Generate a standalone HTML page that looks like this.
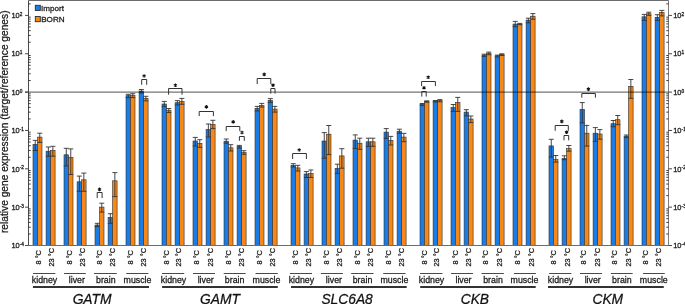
<!DOCTYPE html>
<html><head><meta charset="utf-8"><style>
html,body{margin:0;padding:0;background:#fff;}
body{width:685px;height:304px;overflow:hidden;}
svg{display:block;font-family:"Liberation Sans",sans-serif;will-change:transform;}
text{stroke:#1a1a1a;stroke-width:0.28px;}
</style></head><body>
<svg width="685" height="304" viewBox="0 0 685 304">
<rect x="33.00" y="144.30" width="4.5" height="101.20" fill="#1a7ce6" stroke="#2e2e2e" stroke-width="0.6"/>
<rect x="37.50" y="137.10" width="4.5" height="108.40" fill="#f78818" stroke="#2e2e2e" stroke-width="0.6"/>
<rect x="46.10" y="151.20" width="4.5" height="94.30" fill="#1a7ce6" stroke="#2e2e2e" stroke-width="0.6"/>
<rect x="50.60" y="150.50" width="4.5" height="95.00" fill="#f78818" stroke="#2e2e2e" stroke-width="0.6"/>
<rect x="64.00" y="154.80" width="4.5" height="90.70" fill="#1a7ce6" stroke="#2e2e2e" stroke-width="0.6"/>
<rect x="68.50" y="157.40" width="4.5" height="88.10" fill="#f78818" stroke="#2e2e2e" stroke-width="0.6"/>
<rect x="77.10" y="181.80" width="4.5" height="63.70" fill="#1a7ce6" stroke="#2e2e2e" stroke-width="0.6"/>
<rect x="81.60" y="179.80" width="4.5" height="65.70" fill="#f78818" stroke="#2e2e2e" stroke-width="0.6"/>
<rect x="95.00" y="225.00" width="4.5" height="20.50" fill="#1a7ce6" stroke="#2e2e2e" stroke-width="0.6"/>
<rect x="99.50" y="207.10" width="4.5" height="38.40" fill="#f78818" stroke="#2e2e2e" stroke-width="0.6"/>
<rect x="108.10" y="217.40" width="4.5" height="28.10" fill="#1a7ce6" stroke="#2e2e2e" stroke-width="0.6"/>
<rect x="112.60" y="180.80" width="4.5" height="64.70" fill="#f78818" stroke="#2e2e2e" stroke-width="0.6"/>
<rect x="126.00" y="95.70" width="4.5" height="149.80" fill="#1a7ce6" stroke="#2e2e2e" stroke-width="0.6"/>
<rect x="130.50" y="95.30" width="4.5" height="150.20" fill="#f78818" stroke="#2e2e2e" stroke-width="0.6"/>
<rect x="139.10" y="91.00" width="4.5" height="154.50" fill="#1a7ce6" stroke="#2e2e2e" stroke-width="0.6"/>
<rect x="143.60" y="98.30" width="4.5" height="147.20" fill="#f78818" stroke="#2e2e2e" stroke-width="0.6"/>
<rect x="162.00" y="104.00" width="4.5" height="141.50" fill="#1a7ce6" stroke="#2e2e2e" stroke-width="0.6"/>
<rect x="166.50" y="110.20" width="4.5" height="135.30" fill="#f78818" stroke="#2e2e2e" stroke-width="0.6"/>
<rect x="175.10" y="102.70" width="4.5" height="142.80" fill="#1a7ce6" stroke="#2e2e2e" stroke-width="0.6"/>
<rect x="179.60" y="101.40" width="4.5" height="144.10" fill="#f78818" stroke="#2e2e2e" stroke-width="0.6"/>
<rect x="193.00" y="141.00" width="4.5" height="104.50" fill="#1a7ce6" stroke="#2e2e2e" stroke-width="0.6"/>
<rect x="197.50" y="143.30" width="4.5" height="102.20" fill="#f78818" stroke="#2e2e2e" stroke-width="0.6"/>
<rect x="206.10" y="129.50" width="4.5" height="116.00" fill="#1a7ce6" stroke="#2e2e2e" stroke-width="0.6"/>
<rect x="210.60" y="124.40" width="4.5" height="121.10" fill="#f78818" stroke="#2e2e2e" stroke-width="0.6"/>
<rect x="224.00" y="141.20" width="4.5" height="104.30" fill="#1a7ce6" stroke="#2e2e2e" stroke-width="0.6"/>
<rect x="228.50" y="147.80" width="4.5" height="97.70" fill="#f78818" stroke="#2e2e2e" stroke-width="0.6"/>
<rect x="237.10" y="146.40" width="4.5" height="99.10" fill="#1a7ce6" stroke="#2e2e2e" stroke-width="0.6"/>
<rect x="241.60" y="152.40" width="4.5" height="93.10" fill="#f78818" stroke="#2e2e2e" stroke-width="0.6"/>
<rect x="255.00" y="108.40" width="4.5" height="137.10" fill="#1a7ce6" stroke="#2e2e2e" stroke-width="0.6"/>
<rect x="259.50" y="105.50" width="4.5" height="140.00" fill="#f78818" stroke="#2e2e2e" stroke-width="0.6"/>
<rect x="268.10" y="100.30" width="4.5" height="145.20" fill="#1a7ce6" stroke="#2e2e2e" stroke-width="0.6"/>
<rect x="272.60" y="109.10" width="4.5" height="136.40" fill="#f78818" stroke="#2e2e2e" stroke-width="0.6"/>
<rect x="291.00" y="165.30" width="4.5" height="80.20" fill="#1a7ce6" stroke="#2e2e2e" stroke-width="0.6"/>
<rect x="295.50" y="167.90" width="4.5" height="77.60" fill="#f78818" stroke="#2e2e2e" stroke-width="0.6"/>
<rect x="304.10" y="174.00" width="4.5" height="71.50" fill="#1a7ce6" stroke="#2e2e2e" stroke-width="0.6"/>
<rect x="308.60" y="173.60" width="4.5" height="71.90" fill="#f78818" stroke="#2e2e2e" stroke-width="0.6"/>
<rect x="322.00" y="141.00" width="4.5" height="104.50" fill="#1a7ce6" stroke="#2e2e2e" stroke-width="0.6"/>
<rect x="326.50" y="134.20" width="4.5" height="111.30" fill="#f78818" stroke="#2e2e2e" stroke-width="0.6"/>
<rect x="335.10" y="168.40" width="4.5" height="77.10" fill="#1a7ce6" stroke="#2e2e2e" stroke-width="0.6"/>
<rect x="339.60" y="155.90" width="4.5" height="89.60" fill="#f78818" stroke="#2e2e2e" stroke-width="0.6"/>
<rect x="353.00" y="140.10" width="4.5" height="105.40" fill="#1a7ce6" stroke="#2e2e2e" stroke-width="0.6"/>
<rect x="357.50" y="143.20" width="4.5" height="102.30" fill="#f78818" stroke="#2e2e2e" stroke-width="0.6"/>
<rect x="366.10" y="141.80" width="4.5" height="103.70" fill="#1a7ce6" stroke="#2e2e2e" stroke-width="0.6"/>
<rect x="370.60" y="141.80" width="4.5" height="103.70" fill="#f78818" stroke="#2e2e2e" stroke-width="0.6"/>
<rect x="384.00" y="132.10" width="4.5" height="113.40" fill="#1a7ce6" stroke="#2e2e2e" stroke-width="0.6"/>
<rect x="388.50" y="140.40" width="4.5" height="105.10" fill="#f78818" stroke="#2e2e2e" stroke-width="0.6"/>
<rect x="397.10" y="131.20" width="4.5" height="114.30" fill="#1a7ce6" stroke="#2e2e2e" stroke-width="0.6"/>
<rect x="401.60" y="137.10" width="4.5" height="108.40" fill="#f78818" stroke="#2e2e2e" stroke-width="0.6"/>
<rect x="420.00" y="104.40" width="4.5" height="141.10" fill="#1a7ce6" stroke="#2e2e2e" stroke-width="0.6"/>
<rect x="424.50" y="101.20" width="4.5" height="144.30" fill="#f78818" stroke="#2e2e2e" stroke-width="0.6"/>
<rect x="433.10" y="101.20" width="4.5" height="144.30" fill="#1a7ce6" stroke="#2e2e2e" stroke-width="0.6"/>
<rect x="437.60" y="100.50" width="4.5" height="145.00" fill="#f78818" stroke="#2e2e2e" stroke-width="0.6"/>
<rect x="451.00" y="107.50" width="4.5" height="138.00" fill="#1a7ce6" stroke="#2e2e2e" stroke-width="0.6"/>
<rect x="455.50" y="102.60" width="4.5" height="142.90" fill="#f78818" stroke="#2e2e2e" stroke-width="0.6"/>
<rect x="464.10" y="112.10" width="4.5" height="133.40" fill="#1a7ce6" stroke="#2e2e2e" stroke-width="0.6"/>
<rect x="468.60" y="119.00" width="4.5" height="126.50" fill="#f78818" stroke="#2e2e2e" stroke-width="0.6"/>
<rect x="482.00" y="55.10" width="4.5" height="190.40" fill="#1a7ce6" stroke="#2e2e2e" stroke-width="0.6"/>
<rect x="486.50" y="53.20" width="4.5" height="192.30" fill="#f78818" stroke="#2e2e2e" stroke-width="0.6"/>
<rect x="495.10" y="55.80" width="4.5" height="189.70" fill="#1a7ce6" stroke="#2e2e2e" stroke-width="0.6"/>
<rect x="499.60" y="54.50" width="4.5" height="191.00" fill="#f78818" stroke="#2e2e2e" stroke-width="0.6"/>
<rect x="513.00" y="24.10" width="4.5" height="221.40" fill="#1a7ce6" stroke="#2e2e2e" stroke-width="0.6"/>
<rect x="517.50" y="24.10" width="4.5" height="221.40" fill="#f78818" stroke="#2e2e2e" stroke-width="0.6"/>
<rect x="526.10" y="20.10" width="4.5" height="225.40" fill="#1a7ce6" stroke="#2e2e2e" stroke-width="0.6"/>
<rect x="530.60" y="16.20" width="4.5" height="229.30" fill="#f78818" stroke="#2e2e2e" stroke-width="0.6"/>
<rect x="549.00" y="145.90" width="4.5" height="99.60" fill="#1a7ce6" stroke="#2e2e2e" stroke-width="0.6"/>
<rect x="553.50" y="159.50" width="4.5" height="86.00" fill="#f78818" stroke="#2e2e2e" stroke-width="0.6"/>
<rect x="562.10" y="158.40" width="4.5" height="87.10" fill="#1a7ce6" stroke="#2e2e2e" stroke-width="0.6"/>
<rect x="566.60" y="148.60" width="4.5" height="96.90" fill="#f78818" stroke="#2e2e2e" stroke-width="0.6"/>
<rect x="580.00" y="109.40" width="4.5" height="136.10" fill="#1a7ce6" stroke="#2e2e2e" stroke-width="0.6"/>
<rect x="584.50" y="133.20" width="4.5" height="112.30" fill="#f78818" stroke="#2e2e2e" stroke-width="0.6"/>
<rect x="593.10" y="133.20" width="4.5" height="112.30" fill="#1a7ce6" stroke="#2e2e2e" stroke-width="0.6"/>
<rect x="597.60" y="134.00" width="4.5" height="111.50" fill="#f78818" stroke="#2e2e2e" stroke-width="0.6"/>
<rect x="611.00" y="123.70" width="4.5" height="121.80" fill="#1a7ce6" stroke="#2e2e2e" stroke-width="0.6"/>
<rect x="615.50" y="119.70" width="4.5" height="125.80" fill="#f78818" stroke="#2e2e2e" stroke-width="0.6"/>
<rect x="624.10" y="136.20" width="4.5" height="109.30" fill="#1a7ce6" stroke="#2e2e2e" stroke-width="0.6"/>
<rect x="628.60" y="86.40" width="4.5" height="159.10" fill="#f78818" stroke="#2e2e2e" stroke-width="0.6"/>
<rect x="642.00" y="16.80" width="4.5" height="228.70" fill="#1a7ce6" stroke="#2e2e2e" stroke-width="0.6"/>
<rect x="646.50" y="13.70" width="4.5" height="231.80" fill="#f78818" stroke="#2e2e2e" stroke-width="0.6"/>
<rect x="655.10" y="17.30" width="4.5" height="228.20" fill="#1a7ce6" stroke="#2e2e2e" stroke-width="0.6"/>
<rect x="659.60" y="12.40" width="4.5" height="233.10" fill="#f78818" stroke="#2e2e2e" stroke-width="0.6"/>
<path d="M35.25 140.40V150.50M32.75 140.40h5M32.75 150.50h5" stroke="#333" stroke-width="0.9" fill="none"/>
<path d="M39.75 133.20V142.40M37.25 133.20h5M37.25 142.40h5" stroke="#333" stroke-width="0.9" fill="none"/>
<path d="M48.35 147.00V156.20M45.85 147.00h5M45.85 156.20h5" stroke="#333" stroke-width="0.9" fill="none"/>
<path d="M52.85 146.30V156.20M50.35 146.30h5M50.35 156.20h5" stroke="#333" stroke-width="0.9" fill="none"/>
<path d="M66.25 148.30V166.00M63.75 148.30h5M63.75 166.00h5" stroke="#333" stroke-width="0.9" fill="none"/>
<path d="M70.75 148.90V174.50M68.25 148.90h5M68.25 174.50h5" stroke="#333" stroke-width="0.9" fill="none"/>
<path d="M79.35 176.10V191.30M76.85 176.10h5M76.85 191.30h5" stroke="#333" stroke-width="0.9" fill="none"/>
<path d="M83.85 173.10V191.30M81.35 173.10h5M81.35 191.30h5" stroke="#333" stroke-width="0.9" fill="none"/>
<path d="M97.25 223.30V226.60M94.75 223.30h5M94.75 226.60h5" stroke="#333" stroke-width="0.9" fill="none"/>
<path d="M101.75 203.20V212.10M99.25 203.20h5M99.25 212.10h5" stroke="#333" stroke-width="0.9" fill="none"/>
<path d="M110.35 213.70V223.30M107.85 213.70h5M107.85 223.30h5" stroke="#333" stroke-width="0.9" fill="none"/>
<path d="M114.85 172.60V196.60M112.35 172.60h5M112.35 196.60h5" stroke="#333" stroke-width="0.9" fill="none"/>
<path d="M128.25 94.30V97.60M125.75 94.30h5M125.75 97.60h5" stroke="#333" stroke-width="0.9" fill="none"/>
<path d="M132.75 93.70V97.60M130.25 93.70h5M130.25 97.60h5" stroke="#333" stroke-width="0.9" fill="none"/>
<path d="M141.35 89.50V93.00M138.85 89.50h5M138.85 93.00h5" stroke="#333" stroke-width="0.9" fill="none"/>
<path d="M145.85 96.30V100.90M143.35 96.30h5M143.35 100.90h5" stroke="#333" stroke-width="0.9" fill="none"/>
<path d="M164.25 101.40V106.70M161.75 101.40h5M161.75 106.70h5" stroke="#333" stroke-width="0.9" fill="none"/>
<path d="M168.75 108.50V112.50M166.25 108.50h5M166.25 112.50h5" stroke="#333" stroke-width="0.9" fill="none"/>
<path d="M177.35 100.60V105.00M174.85 100.60h5M174.85 105.00h5" stroke="#333" stroke-width="0.9" fill="none"/>
<path d="M181.85 98.40V104.30M179.35 98.40h5M179.35 104.30h5" stroke="#333" stroke-width="0.9" fill="none"/>
<path d="M195.25 137.40V146.00M192.75 137.40h5M192.75 146.00h5" stroke="#333" stroke-width="0.9" fill="none"/>
<path d="M199.75 139.70V147.40M197.25 139.70h5M197.25 147.40h5" stroke="#333" stroke-width="0.9" fill="none"/>
<path d="M208.35 124.00V137.00M205.85 124.00h5M205.85 137.00h5" stroke="#333" stroke-width="0.9" fill="none"/>
<path d="M212.85 120.30V128.60M210.35 120.30h5M210.35 128.60h5" stroke="#333" stroke-width="0.9" fill="none"/>
<path d="M226.25 139.00V143.20M223.75 139.00h5M223.75 143.20h5" stroke="#333" stroke-width="0.9" fill="none"/>
<path d="M230.75 144.70V151.00M228.25 144.70h5M228.25 151.00h5" stroke="#333" stroke-width="0.9" fill="none"/>
<path d="M239.35 145.40V148.00M236.85 145.40h5M236.85 148.00h5" stroke="#333" stroke-width="0.9" fill="none"/>
<path d="M243.85 150.70V154.30M241.35 150.70h5M241.35 154.30h5" stroke="#333" stroke-width="0.9" fill="none"/>
<path d="M257.25 106.40V111.00M254.75 106.40h5M254.75 111.00h5" stroke="#333" stroke-width="0.9" fill="none"/>
<path d="M261.75 103.40V107.10M259.25 103.40h5M259.25 107.10h5" stroke="#333" stroke-width="0.9" fill="none"/>
<path d="M270.35 98.60V102.50M267.85 98.60h5M267.85 102.50h5" stroke="#333" stroke-width="0.9" fill="none"/>
<path d="M274.85 106.40V112.10M272.35 106.40h5M272.35 112.10h5" stroke="#333" stroke-width="0.9" fill="none"/>
<path d="M293.25 163.70V167.00M290.75 163.70h5M290.75 167.00h5" stroke="#333" stroke-width="0.9" fill="none"/>
<path d="M297.75 165.30V171.00M295.25 165.30h5M295.25 171.00h5" stroke="#333" stroke-width="0.9" fill="none"/>
<path d="M306.35 171.60V177.50M303.85 171.60h5M303.85 177.50h5" stroke="#333" stroke-width="0.9" fill="none"/>
<path d="M310.85 170.00V177.50M308.35 170.00h5M308.35 177.50h5" stroke="#333" stroke-width="0.9" fill="none"/>
<path d="M324.25 132.60V158.20M321.75 132.60h5M321.75 158.20h5" stroke="#333" stroke-width="0.9" fill="none"/>
<path d="M328.75 125.50V154.60M326.25 125.50h5M326.25 154.60h5" stroke="#333" stroke-width="0.9" fill="none"/>
<path d="M337.35 164.20V173.40M334.85 164.20h5M334.85 173.40h5" stroke="#333" stroke-width="0.9" fill="none"/>
<path d="M341.85 148.70V168.20M339.35 148.70h5M339.35 168.20h5" stroke="#333" stroke-width="0.9" fill="none"/>
<path d="M355.25 134.90V148.40M352.75 134.90h5M352.75 148.40h5" stroke="#333" stroke-width="0.9" fill="none"/>
<path d="M359.75 138.20V149.30M357.25 138.20h5M357.25 149.30h5" stroke="#333" stroke-width="0.9" fill="none"/>
<path d="M368.35 138.20V146.30M365.85 138.20h5M365.85 146.30h5" stroke="#333" stroke-width="0.9" fill="none"/>
<path d="M372.85 138.20V146.30M370.35 138.20h5M370.35 146.30h5" stroke="#333" stroke-width="0.9" fill="none"/>
<path d="M386.25 128.60V138.40M383.75 128.60h5M383.75 138.40h5" stroke="#333" stroke-width="0.9" fill="none"/>
<path d="M390.75 136.40V145.00M388.25 136.40h5M388.25 145.00h5" stroke="#333" stroke-width="0.9" fill="none"/>
<path d="M399.35 129.20V133.20M396.85 129.20h5M396.85 133.20h5" stroke="#333" stroke-width="0.9" fill="none"/>
<path d="M403.85 133.40V141.70M401.35 133.40h5M401.35 141.70h5" stroke="#333" stroke-width="0.9" fill="none"/>
<path d="M422.25 103.50V105.40M419.75 103.50h5M419.75 105.40h5" stroke="#333" stroke-width="0.9" fill="none"/>
<path d="M426.75 100.90V102.20M424.25 100.90h5M424.25 102.20h5" stroke="#333" stroke-width="0.9" fill="none"/>
<path d="M435.35 100.50V102.00M432.85 100.50h5M432.85 102.00h5" stroke="#333" stroke-width="0.9" fill="none"/>
<path d="M439.85 99.60V101.80M437.35 99.60h5M437.35 101.80h5" stroke="#333" stroke-width="0.9" fill="none"/>
<path d="M453.25 104.50V111.40M450.75 104.50h5M450.75 111.40h5" stroke="#333" stroke-width="0.9" fill="none"/>
<path d="M457.75 97.40V111.40M455.25 97.40h5M455.25 111.40h5" stroke="#333" stroke-width="0.9" fill="none"/>
<path d="M466.35 109.70V115.80M463.85 109.70h5M463.85 115.80h5" stroke="#333" stroke-width="0.9" fill="none"/>
<path d="M470.85 116.00V122.60M468.35 116.00h5M468.35 122.60h5" stroke="#333" stroke-width="0.9" fill="none"/>
<path d="M484.25 54.20V56.40M481.75 54.20h5M481.75 56.40h5" stroke="#333" stroke-width="0.9" fill="none"/>
<path d="M488.75 52.10V54.70M486.25 52.10h5M486.25 54.70h5" stroke="#333" stroke-width="0.9" fill="none"/>
<path d="M497.35 55.10V57.00M494.85 55.10h5M494.85 57.00h5" stroke="#333" stroke-width="0.9" fill="none"/>
<path d="M501.85 53.80V55.50M499.35 53.80h5M499.35 55.50h5" stroke="#333" stroke-width="0.9" fill="none"/>
<path d="M515.25 21.40V26.70M512.75 21.40h5M512.75 26.70h5" stroke="#333" stroke-width="0.9" fill="none"/>
<path d="M519.75 23.40V24.70M517.25 23.40h5M517.25 24.70h5" stroke="#333" stroke-width="0.9" fill="none"/>
<path d="M528.35 18.20V22.80M525.85 18.20h5M525.85 22.80h5" stroke="#333" stroke-width="0.9" fill="none"/>
<path d="M532.85 13.60V19.20M530.35 13.60h5M530.35 19.20h5" stroke="#333" stroke-width="0.9" fill="none"/>
<path d="M551.25 139.30V157.10M548.75 139.30h5M548.75 157.10h5" stroke="#333" stroke-width="0.9" fill="none"/>
<path d="M555.75 155.50V162.10M553.25 155.50h5M553.25 162.10h5" stroke="#333" stroke-width="0.9" fill="none"/>
<path d="M564.35 155.80V159.70M561.85 155.80h5M561.85 159.70h5" stroke="#333" stroke-width="0.9" fill="none"/>
<path d="M568.85 145.50V151.20M566.35 145.50h5M566.35 151.20h5" stroke="#333" stroke-width="0.9" fill="none"/>
<path d="M582.25 102.60V122.80M579.75 102.60h5M579.75 122.80h5" stroke="#333" stroke-width="0.9" fill="none"/>
<path d="M586.75 125.40V146.10M584.25 125.40h5M584.25 146.10h5" stroke="#333" stroke-width="0.9" fill="none"/>
<path d="M595.35 127.60V141.40M592.85 127.60h5M592.85 141.40h5" stroke="#333" stroke-width="0.9" fill="none"/>
<path d="M599.85 129.60V139.20M597.35 129.60h5M597.35 139.20h5" stroke="#333" stroke-width="0.9" fill="none"/>
<path d="M613.25 120.50V126.70M610.75 120.50h5M610.75 126.70h5" stroke="#333" stroke-width="0.9" fill="none"/>
<path d="M617.75 115.50V124.70M615.25 115.50h5M615.25 124.70h5" stroke="#333" stroke-width="0.9" fill="none"/>
<path d="M626.35 135.00V137.60M623.85 135.00h5M623.85 137.60h5" stroke="#333" stroke-width="0.9" fill="none"/>
<path d="M630.85 79.50V98.30M628.35 79.50h5M628.35 98.30h5" stroke="#333" stroke-width="0.9" fill="none"/>
<path d="M644.25 14.40V20.30M641.75 14.40h5M641.75 20.30h5" stroke="#333" stroke-width="0.9" fill="none"/>
<path d="M648.75 12.20V15.40M646.25 12.20h5M646.25 15.40h5" stroke="#333" stroke-width="0.9" fill="none"/>
<path d="M657.35 14.70V20.30M654.85 14.70h5M654.85 20.30h5" stroke="#333" stroke-width="0.9" fill="none"/>
<path d="M661.85 10.40V15.90M659.35 10.40h5M659.35 15.90h5" stroke="#333" stroke-width="0.9" fill="none"/>
<line x1="25.0" y1="92.1" x2="668.5" y2="92.1" stroke="#747474" stroke-width="1.1" style="mix-blend-mode:multiply"/>
<path d="M28.5 0.5H668.5M28.5 245.5H668.5" fill="none" stroke="#6c6c6c" stroke-width="1"/>
<path d="M28.5 245.5V0.5" fill="none" stroke="#4a4a4a" stroke-width="1"/>
<path d="M668.5 0.5V245.5" fill="none" stroke="#5a5a5a" stroke-width="0.8"/>
<path d="M25.0 245.50H28.5M668.5 245.50H672.0M25.0 207.15H28.5M668.5 207.15H672.0M25.0 168.80H28.5M668.5 168.80H672.0M25.0 130.45H28.5M668.5 130.45H672.0M25.0 92.10H28.5M668.5 92.10H672.0M25.0 53.75H28.5M668.5 53.75H672.0M25.0 15.40H28.5M668.5 15.40H672.0" stroke="#333" stroke-width="0.9" fill="none"/>
<path d="M28.5 233.96H30.7M668.5 233.96H666.3M28.5 227.20H30.7M668.5 227.20H666.3M28.5 222.41H30.7M668.5 222.41H666.3M28.5 218.69H30.7M668.5 218.69H666.3M28.5 215.66H30.7M668.5 215.66H666.3M28.5 213.09H30.7M668.5 213.09H666.3M28.5 210.87H30.7M668.5 210.87H666.3M28.5 208.90H30.7M668.5 208.90H666.3M28.5 195.61H30.7M668.5 195.61H666.3M28.5 188.85H30.7M668.5 188.85H666.3M28.5 184.06H30.7M668.5 184.06H666.3M28.5 180.34H30.7M668.5 180.34H666.3M28.5 177.31H30.7M668.5 177.31H666.3M28.5 174.74H30.7M668.5 174.74H666.3M28.5 172.52H30.7M668.5 172.52H666.3M28.5 170.55H30.7M668.5 170.55H666.3M28.5 157.26H30.7M668.5 157.26H666.3M28.5 150.50H30.7M668.5 150.50H666.3M28.5 145.71H30.7M668.5 145.71H666.3M28.5 141.99H30.7M668.5 141.99H666.3M28.5 138.96H30.7M668.5 138.96H666.3M28.5 136.39H30.7M668.5 136.39H666.3M28.5 134.17H30.7M668.5 134.17H666.3M28.5 132.20H30.7M668.5 132.20H666.3M28.5 118.91H30.7M668.5 118.91H666.3M28.5 112.15H30.7M668.5 112.15H666.3M28.5 107.36H30.7M668.5 107.36H666.3M28.5 103.64H30.7M668.5 103.64H666.3M28.5 100.61H30.7M668.5 100.61H666.3M28.5 98.04H30.7M668.5 98.04H666.3M28.5 95.82H30.7M668.5 95.82H666.3M28.5 93.85H30.7M668.5 93.85H666.3M28.5 80.56H30.7M668.5 80.56H666.3M28.5 73.80H30.7M668.5 73.80H666.3M28.5 69.01H30.7M668.5 69.01H666.3M28.5 65.29H30.7M668.5 65.29H666.3M28.5 62.26H30.7M668.5 62.26H666.3M28.5 59.69H30.7M668.5 59.69H666.3M28.5 57.47H30.7M668.5 57.47H666.3M28.5 55.50H30.7M668.5 55.50H666.3M28.5 42.21H30.7M668.5 42.21H666.3M28.5 35.45H30.7M668.5 35.45H666.3M28.5 30.66H30.7M668.5 30.66H666.3M28.5 26.94H30.7M668.5 26.94H666.3M28.5 23.91H30.7M668.5 23.91H666.3M28.5 21.34H30.7M668.5 21.34H666.3M28.5 19.12H30.7M668.5 19.12H666.3M28.5 17.15H30.7M668.5 17.15H666.3M28.5 3.86H30.7M668.5 3.86H666.3" stroke="#2a2a2a" stroke-width="0.9" fill="none"/>
<text x="11.4" y="248.20" font-size="7.5" fill="#222">10<tspan font-size="4.8" dy="-2.2">-4</tspan></text>
<text x="673.2" y="248.20" font-size="7.5" fill="#222">10<tspan font-size="4.8" dy="-2.2">-4</tspan></text>
<text x="11.4" y="209.85" font-size="7.5" fill="#222">10<tspan font-size="4.8" dy="-2.2">-3</tspan></text>
<text x="673.2" y="209.85" font-size="7.5" fill="#222">10<tspan font-size="4.8" dy="-2.2">-3</tspan></text>
<text x="11.4" y="171.50" font-size="7.5" fill="#222">10<tspan font-size="4.8" dy="-2.2">-2</tspan></text>
<text x="673.2" y="171.50" font-size="7.5" fill="#222">10<tspan font-size="4.8" dy="-2.2">-2</tspan></text>
<text x="11.4" y="133.15" font-size="7.5" fill="#222">10<tspan font-size="4.8" dy="-2.2">-1</tspan></text>
<text x="673.2" y="133.15" font-size="7.5" fill="#222">10<tspan font-size="4.8" dy="-2.2">-1</tspan></text>
<text x="11.4" y="94.80" font-size="7.5" fill="#222">10<tspan font-size="4.8" dy="-2.2">0</tspan></text>
<text x="673.2" y="94.80" font-size="7.5" fill="#222">10<tspan font-size="4.8" dy="-2.2">0</tspan></text>
<text x="11.4" y="56.45" font-size="7.5" fill="#222">10<tspan font-size="4.8" dy="-2.2">1</tspan></text>
<text x="673.2" y="56.45" font-size="7.5" fill="#222">10<tspan font-size="4.8" dy="-2.2">1</tspan></text>
<text x="11.4" y="18.10" font-size="7.5" fill="#222">10<tspan font-size="4.8" dy="-2.2">2</tspan></text>
<text x="673.2" y="18.10" font-size="7.5" fill="#222">10<tspan font-size="4.8" dy="-2.2">2</tspan></text>
<rect x="35.3" y="5.3" width="5" height="5.2" fill="#1a7ce6" stroke="#2e2e2e" stroke-width="0.9"/>
<rect x="35.3" y="16.5" width="5" height="5.2" fill="#f78818" stroke="#2e2e2e" stroke-width="0.9"/>
<text x="41.0" y="10.6" font-size="8.1" fill="#1a1a1a">Import</text>
<text x="41.2" y="21.8" font-size="8.1" fill="#1a1a1a">BORN</text>
<text transform="translate(8.2 121.75) rotate(-90)" font-size="10.2" text-anchor="middle" fill="#222">relative gene expression (target/reference genes)</text>
<path d="M97.20 198.10V192.5H102.10V198.10" stroke="#333" stroke-width="1" fill="none"/>
<path d="M99.50 187.60V191.20M97.90 188.50L101.10 190.30M97.90 190.30L101.10 188.50" stroke="#111" stroke-width="1.05" fill="none"/>
<path d="M141.70 84.80V79.5H146.70V84.80" stroke="#333" stroke-width="1" fill="none"/>
<path d="M144.10 74.20V77.80M142.50 75.10L145.70 76.90M142.50 76.90L145.70 75.10" stroke="#111" stroke-width="1.05" fill="none"/>
<path d="M168.60 94.70V88.5H182.00V94.70" stroke="#333" stroke-width="1" fill="none"/>
<path d="M175.40 83.50V87.10M173.80 84.40L177.00 86.20M173.80 86.20L177.00 84.40" stroke="#111" stroke-width="1.05" fill="none"/>
<path d="M199.20 116.10V111.5H213.40V116.10" stroke="#333" stroke-width="1" fill="none"/>
<path d="M206.40 105.10V108.70M204.80 106.00L208.00 107.80M204.80 107.80L208.00 106.00" stroke="#111" stroke-width="1.05" fill="none"/>
<path d="M226.20 131.10V126.5H239.80V131.10" stroke="#333" stroke-width="1" fill="none"/>
<path d="M233.20 120.10V123.70M231.60 121.00L234.80 122.80M231.60 122.80L234.80 121.00" stroke="#111" stroke-width="1.05" fill="none"/>
<path d="M239.40 140.80V136.5H244.30V140.80" stroke="#333" stroke-width="1" fill="none"/>
<path d="M242.00 130.70V134.30M240.40 131.60L243.60 133.40M240.40 133.40L243.60 131.60" stroke="#111" stroke-width="1.05" fill="none"/>
<path d="M257.20 84.10V78.5H270.80V84.10" stroke="#333" stroke-width="1" fill="none"/>
<path d="M264.20 72.60V76.20M262.60 73.50L265.80 75.30M262.60 75.30L265.80 73.50" stroke="#111" stroke-width="1.05" fill="none"/>
<path d="M270.80 93.60V88.5H275.00V93.60" stroke="#333" stroke-width="1" fill="none"/>
<path d="M273.00 83.40V87.00M271.40 84.30L274.60 86.10M271.40 86.10L274.60 84.30" stroke="#111" stroke-width="1.05" fill="none"/>
<path d="M292.60 159.00V153.5H306.40V159.00" stroke="#333" stroke-width="1" fill="none"/>
<path d="M299.20 148.20V151.80M297.60 149.10L300.80 150.90M297.60 150.90L300.80 149.10" stroke="#111" stroke-width="1.05" fill="none"/>
<path d="M421.60 86.10V81.5H435.40V86.10" stroke="#333" stroke-width="1" fill="none"/>
<path d="M428.20 75.50V79.10M426.60 76.40L429.80 78.20M426.60 78.20L429.80 76.40" stroke="#111" stroke-width="1.05" fill="none"/>
<path d="M421.80 96.60V91.5H426.20V96.60" stroke="#333" stroke-width="1" fill="none"/>
<path d="M424.00 86.00V89.60M422.40 86.90L425.60 88.70M422.40 88.70L425.60 86.90" stroke="#111" stroke-width="1.05" fill="none"/>
<path d="M555.20 130.80V125.5H568.30V130.80" stroke="#333" stroke-width="1" fill="none"/>
<path d="M561.80 119.60V123.20M560.20 120.50L563.40 122.30M560.20 122.30L563.40 120.50" stroke="#111" stroke-width="1.05" fill="none"/>
<path d="M564.00 140.30V135.5H568.70V140.30" stroke="#333" stroke-width="1" fill="none"/>
<path d="M566.60 130.40V134.00M565.00 131.30L568.20 133.10M565.00 133.10L568.20 131.30" stroke="#111" stroke-width="1.05" fill="none"/>
<path d="M581.80 97.70V93.5H595.40V97.70" stroke="#333" stroke-width="1" fill="none"/>
<path d="M588.40 87.30V90.90M586.80 88.20L590.00 90.00M586.80 90.00L590.00 88.20" stroke="#111" stroke-width="1.05" fill="none"/>
<text transform="translate(41.00 257.3) rotate(-90)" font-size="7.4" text-anchor="middle" fill="#222">8 °C</text>
<text transform="translate(53.55 257.3) rotate(-90)" font-size="7.4" text-anchor="middle" fill="#222">23 °C</text>
<line x1="33.00" y1="273.5" x2="55.40" y2="273.5" stroke="#333" stroke-width="0.9"/>
<text x="44.50" y="283.4" font-size="8.8" text-anchor="middle" fill="#222">kidney</text>
<text transform="translate(72.05 257.3) rotate(-90)" font-size="7.4" text-anchor="middle" fill="#222">8 °C</text>
<text transform="translate(84.55 257.3) rotate(-90)" font-size="7.4" text-anchor="middle" fill="#222">23 °C</text>
<line x1="64.00" y1="273.5" x2="85.80" y2="273.5" stroke="#333" stroke-width="0.9"/>
<text x="76.80" y="283.4" font-size="8.8" text-anchor="middle" fill="#222">liver</text>
<text transform="translate(102.00 257.3) rotate(-90)" font-size="7.4" text-anchor="middle" fill="#222">8 °C</text>
<text transform="translate(114.55 257.3) rotate(-90)" font-size="7.4" text-anchor="middle" fill="#222">23 °C</text>
<line x1="94.05" y1="273.5" x2="116.80" y2="273.5" stroke="#333" stroke-width="0.9"/>
<text x="105.80" y="283.4" font-size="8.8" text-anchor="middle" fill="#222">brain</text>
<text transform="translate(132.95 257.3) rotate(-90)" font-size="7.4" text-anchor="middle" fill="#222">8 °C</text>
<text transform="translate(145.70 257.3) rotate(-90)" font-size="7.4" text-anchor="middle" fill="#222">23 °C</text>
<line x1="126.30" y1="273.5" x2="148.40" y2="273.5" stroke="#333" stroke-width="0.9"/>
<text x="137.50" y="283.4" font-size="8.8" text-anchor="middle" fill="#222">muscle</text>
<line x1="32.90" y1="287" x2="149.00" y2="287" stroke="#333" stroke-width="2"/>
<text x="92.05" y="304.3" font-size="13.8" font-style="italic" text-anchor="middle" fill="#111">GATM</text>
<text transform="translate(169.15 257.3) rotate(-90)" font-size="7.4" text-anchor="middle" fill="#222">8 °C</text>
<text transform="translate(181.45 257.3) rotate(-90)" font-size="7.4" text-anchor="middle" fill="#222">23 °C</text>
<line x1="162.10" y1="273.5" x2="184.20" y2="273.5" stroke="#333" stroke-width="0.9"/>
<text x="173.50" y="283.4" font-size="8.8" text-anchor="middle" fill="#222">kidney</text>
<text transform="translate(199.35 257.3) rotate(-90)" font-size="7.4" text-anchor="middle" fill="#222">8 °C</text>
<text transform="translate(212.95 257.3) rotate(-90)" font-size="7.4" text-anchor="middle" fill="#222">23 °C</text>
<line x1="193.00" y1="273.5" x2="215.00" y2="273.5" stroke="#333" stroke-width="0.9"/>
<text x="205.70" y="283.4" font-size="8.8" text-anchor="middle" fill="#222">liver</text>
<text transform="translate(231.25 257.3) rotate(-90)" font-size="7.4" text-anchor="middle" fill="#222">8 °C</text>
<text transform="translate(244.20 257.3) rotate(-90)" font-size="7.4" text-anchor="middle" fill="#222">23 °C</text>
<line x1="223.70" y1="273.5" x2="245.70" y2="273.5" stroke="#333" stroke-width="0.9"/>
<text x="234.60" y="283.4" font-size="8.8" text-anchor="middle" fill="#222">brain</text>
<text transform="translate(262.15 257.3) rotate(-90)" font-size="7.4" text-anchor="middle" fill="#222">8 °C</text>
<text transform="translate(274.60 257.3) rotate(-90)" font-size="7.4" text-anchor="middle" fill="#222">23 °C</text>
<line x1="255.50" y1="273.5" x2="277.80" y2="273.5" stroke="#333" stroke-width="0.9"/>
<text x="266.50" y="283.4" font-size="8.8" text-anchor="middle" fill="#222">muscle</text>
<line x1="162.10" y1="287" x2="277.80" y2="287" stroke="#333" stroke-width="2"/>
<text x="220.05" y="304.3" font-size="13.8" font-style="italic" text-anchor="middle" fill="#111">GAMT</text>
<text transform="translate(298.25 257.3) rotate(-90)" font-size="7.4" text-anchor="middle" fill="#222">8 °C</text>
<text transform="translate(310.55 257.3) rotate(-90)" font-size="7.4" text-anchor="middle" fill="#222">23 °C</text>
<line x1="289.90" y1="273.5" x2="312.00" y2="273.5" stroke="#333" stroke-width="0.9"/>
<text x="301.40" y="283.4" font-size="8.8" text-anchor="middle" fill="#222">kidney</text>
<text transform="translate(328.70 257.3) rotate(-90)" font-size="7.4" text-anchor="middle" fill="#222">8 °C</text>
<text transform="translate(342.45 257.3) rotate(-90)" font-size="7.4" text-anchor="middle" fill="#222">23 °C</text>
<line x1="320.90" y1="273.5" x2="342.90" y2="273.5" stroke="#333" stroke-width="0.9"/>
<text x="333.90" y="283.4" font-size="8.8" text-anchor="middle" fill="#222">liver</text>
<text transform="translate(360.25 257.3) rotate(-90)" font-size="7.4" text-anchor="middle" fill="#222">8 °C</text>
<text transform="translate(372.95 257.3) rotate(-90)" font-size="7.4" text-anchor="middle" fill="#222">23 °C</text>
<line x1="351.20" y1="273.5" x2="373.50" y2="273.5" stroke="#333" stroke-width="0.9"/>
<text x="362.50" y="283.4" font-size="8.8" text-anchor="middle" fill="#222">brain</text>
<text transform="translate(391.40 257.3) rotate(-90)" font-size="7.4" text-anchor="middle" fill="#222">8 °C</text>
<text transform="translate(403.60 257.3) rotate(-90)" font-size="7.4" text-anchor="middle" fill="#222">23 °C</text>
<line x1="383.20" y1="273.5" x2="405.60" y2="273.5" stroke="#333" stroke-width="0.9"/>
<text x="394.40" y="283.4" font-size="8.8" text-anchor="middle" fill="#222">muscle</text>
<line x1="291.00" y1="287" x2="406.70" y2="287" stroke="#333" stroke-width="2"/>
<text x="347.10" y="304.3" font-size="13.8" font-style="italic" text-anchor="middle" fill="#111">SLC6A8</text>
<text transform="translate(426.75 257.3) rotate(-90)" font-size="7.4" text-anchor="middle" fill="#222">8 °C</text>
<text transform="translate(439.30 257.3) rotate(-90)" font-size="7.4" text-anchor="middle" fill="#222">23 °C</text>
<line x1="420.10" y1="273.5" x2="442.40" y2="273.5" stroke="#333" stroke-width="0.9"/>
<text x="431.50" y="283.4" font-size="8.8" text-anchor="middle" fill="#222">kidney</text>
<text transform="translate(457.50 257.3) rotate(-90)" font-size="7.4" text-anchor="middle" fill="#222">8 °C</text>
<text transform="translate(471.45 257.3) rotate(-90)" font-size="7.4" text-anchor="middle" fill="#222">23 °C</text>
<line x1="451.10" y1="273.5" x2="473.00" y2="273.5" stroke="#333" stroke-width="0.9"/>
<text x="463.50" y="283.4" font-size="8.8" text-anchor="middle" fill="#222">liver</text>
<text transform="translate(488.30 257.3) rotate(-90)" font-size="7.4" text-anchor="middle" fill="#222">8 °C</text>
<text transform="translate(501.95 257.3) rotate(-90)" font-size="7.4" text-anchor="middle" fill="#222">23 °C</text>
<line x1="481.60" y1="273.5" x2="503.90" y2="273.5" stroke="#333" stroke-width="0.9"/>
<text x="493.00" y="283.4" font-size="8.8" text-anchor="middle" fill="#222">brain</text>
<text transform="translate(519.70 257.3) rotate(-90)" font-size="7.4" text-anchor="middle" fill="#222">8 °C</text>
<text transform="translate(533.85 257.3) rotate(-90)" font-size="7.4" text-anchor="middle" fill="#222">23 °C</text>
<line x1="513.90" y1="273.5" x2="535.90" y2="273.5" stroke="#333" stroke-width="0.9"/>
<text x="524.50" y="283.4" font-size="8.8" text-anchor="middle" fill="#222">muscle</text>
<line x1="420.20" y1="287" x2="535.70" y2="287" stroke="#333" stroke-width="2"/>
<text x="474.90" y="304.3" font-size="13.8" font-style="italic" text-anchor="middle" fill="#111">CKB</text>
<text transform="translate(555.75 257.3) rotate(-90)" font-size="7.4" text-anchor="middle" fill="#222">8 °C</text>
<text transform="translate(569.85 257.3) rotate(-90)" font-size="7.4" text-anchor="middle" fill="#222">23 °C</text>
<line x1="549.10" y1="273.5" x2="571.40" y2="273.5" stroke="#333" stroke-width="0.9"/>
<text x="560.50" y="283.4" font-size="8.8" text-anchor="middle" fill="#222">kidney</text>
<text transform="translate(586.00 257.3) rotate(-90)" font-size="7.4" text-anchor="middle" fill="#222">8 °C</text>
<text transform="translate(600.20 257.3) rotate(-90)" font-size="7.4" text-anchor="middle" fill="#222">23 °C</text>
<line x1="580.00" y1="273.5" x2="602.00" y2="273.5" stroke="#333" stroke-width="0.9"/>
<text x="592.70" y="283.4" font-size="8.8" text-anchor="middle" fill="#222">liver</text>
<text transform="translate(617.30 257.3) rotate(-90)" font-size="7.4" text-anchor="middle" fill="#222">8 °C</text>
<text transform="translate(630.95 257.3) rotate(-90)" font-size="7.4" text-anchor="middle" fill="#222">23 °C</text>
<line x1="610.90" y1="273.5" x2="632.70" y2="273.5" stroke="#333" stroke-width="0.9"/>
<text x="621.90" y="283.4" font-size="8.8" text-anchor="middle" fill="#222">brain</text>
<text transform="translate(647.70 257.3) rotate(-90)" font-size="7.4" text-anchor="middle" fill="#222">8 °C</text>
<text transform="translate(661.30 257.3) rotate(-90)" font-size="7.4" text-anchor="middle" fill="#222">23 °C</text>
<line x1="643.00" y1="273.5" x2="664.80" y2="273.5" stroke="#333" stroke-width="0.9"/>
<text x="653.80" y="283.4" font-size="8.8" text-anchor="middle" fill="#222">muscle</text>
<line x1="548.00" y1="287" x2="663.80" y2="287" stroke="#333" stroke-width="2"/>
<text x="607.80" y="304.3" font-size="13.8" font-style="italic" text-anchor="middle" fill="#111">CKM</text>
</svg>
</body></html>
